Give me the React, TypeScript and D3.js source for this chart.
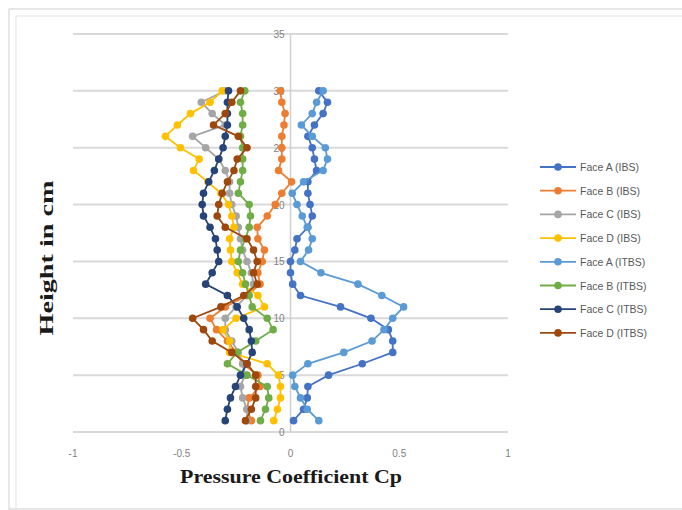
import React from "react";
import * as d3 from "d3";

const heights = [1,2,3,4,5,6,7,8,9,10,11,12,13,14,15,16,17,18,19,20,21,22,23,24,25,26,27,28,29,30];

// values listed from height 1 to 30
const faceA_IBS = [0.014,0.06,0.077,0.08,0.175,0.33,0.47,0.47,0.45,0.37,0.23,0.046,0.01,0.0,0.0,0.02,0.03,0.08,0.1,0.09,0.08,0.08,0.12,0.11,0.1,0.08,0.11,0.15,0.17,0.13];
const faceB_IBS = [-0.18,-0.2,-0.19,-0.14,-0.15,-0.22,-0.25,-0.29,-0.34,-0.37,-0.3,-0.2,-0.14,-0.15,-0.13,-0.12,-0.15,-0.153,-0.107,-0.07,-0.04,0.005,-0.055,-0.04,-0.04,-0.04,-0.03,-0.025,-0.04,-0.047];
const faceC_IBS = [-0.2,-0.2,-0.22,-0.23,-0.21,-0.22,-0.24,-0.27,-0.3,-0.3,-0.25,-0.2,-0.17,-0.18,-0.2,-0.22,-0.23,-0.24,-0.25,-0.27,-0.28,-0.28,-0.3,-0.33,-0.39,-0.45,-0.3,-0.36,-0.41,-0.3];
const faceD_IBS = [-0.077,-0.06,-0.046,-0.046,-0.055,-0.107,-0.28,-0.28,-0.31,-0.25,-0.12,-0.15,-0.22,-0.245,-0.27,-0.276,-0.28,-0.26,-0.27,-0.285,-0.32,-0.38,-0.446,-0.42,-0.506,-0.575,-0.52,-0.46,-0.37,-0.314];
const faceA_ITBS = [0.13,0.077,0.046,0.02,0.01,0.08,0.245,0.375,0.43,0.47,0.52,0.42,0.31,0.14,0.046,0.083,0.1,0.077,0.054,0.03,0.008,0.06,0.15,0.17,0.16,0.1,0.05,0.1,0.12,0.15];
const faceB_ITBS = [-0.138,-0.115,-0.1,-0.107,-0.2,-0.29,-0.245,-0.16,-0.08,-0.107,-0.176,-0.19,-0.207,-0.22,-0.24,-0.23,-0.207,-0.19,-0.184,-0.19,-0.24,-0.23,-0.22,-0.22,-0.22,-0.23,-0.22,-0.22,-0.23,-0.21];
const faceC_ITBS = [-0.3,-0.29,-0.276,-0.253,-0.23,-0.2,-0.176,-0.18,-0.19,-0.215,-0.245,-0.29,-0.39,-0.36,-0.33,-0.337,-0.345,-0.37,-0.4,-0.406,-0.4,-0.376,-0.35,-0.33,-0.31,-0.3,-0.29,-0.29,-0.29,-0.285];
const faceD_ITBS = [-0.207,-0.18,-0.16,-0.16,-0.16,-0.2,-0.27,-0.36,-0.4,-0.45,-0.32,-0.215,-0.153,-0.17,-0.153,-0.17,-0.2,-0.3,-0.337,-0.33,-0.314,-0.29,-0.26,-0.245,-0.2,-0.24,-0.354,-0.3,-0.27,-0.23];

const seriesNames = ["Face A (IBS)","Face B (IBS)","Face C (IBS)","Face D (IBS)","Face A (ITBS)","Face B (ITBS)","Face C (ITBS)","Face D (ITBS)"];
const seriesValues = [faceA_IBS, faceB_IBS, faceC_IBS, faceD_IBS, faceA_ITBS, faceB_ITBS, faceC_ITBS, faceD_ITBS];
const seriesColors = ["#4472C4","#ED7D31","#A5A5A5","#FFC000","#5B9BD5","#70AD47","#264478","#9E480E"];

const xTicks = [-1,-0.5,0,0.5,1];
const yTicks = [0,5,10,15,20,25,30,35];

export default function App() {
  const W = 682, H = 510;
  const x = d3.scaleLinear().domain([-1, 1]).range([73, 508]);
  const y = d3.scaleLinear().domain([0, 35]).range([432, 34]);
  const line = d3.line<number>().x((d) => x(d)).y((_, i) => y(heights[i]));

  const legendX = 540;
  const legendY0 = 167;
  const legendStep = 23.7;

  return (
    <svg width={W} height={H} style={{ position: "absolute", left: 0, top: 0, background: "#fff" }} fontFamily="Liberation Sans, Arial, sans-serif">
      <rect x={9} y={9} width={690} height={500} fill="#fff" stroke="#cfcfcf" strokeWidth={1} />
      <rect x={16} y={16} width={690} height={500} fill="none" stroke="#e4e4e4" strokeWidth={1} />
      {yTicks.map((t) => (
        <line key={"g" + t} x1={x(-1)} x2={x(1)} y1={y(t)} y2={y(t)} stroke="#d9d9d9" strokeWidth={2} />
      ))}
      <line x1={x(0)} x2={x(0)} y1={y(35)} y2={y(0)} stroke="#d0d0d0" strokeWidth={1.5} />
      {yTicks.map((t) => (
        <text key={"yt" + t} x={x(0) - 6} y={y(t) + 4} textAnchor="end" fontSize={10} fill="#7f7f7f">{t}</text>
      ))}
      {xTicks.map((t) => (
        <text key={"xt" + t} x={x(t)} y={457} textAnchor="middle" fontSize={10} fill="#7f7f7f">{t}</text>
      ))}
      {seriesValues.map((vals, si) => (
        <g key={"s" + si}>
          <path d={line(vals) || ""} fill="none" stroke={seriesColors[si]} strokeWidth={1.8} />
          {vals.map((v, i) => (
            <circle key={i} cx={x(v)} cy={y(heights[i])} r={3.8} fill={seriesColors[si]} />
          ))}
        </g>
      ))}
      <text x={291} y={483} textAnchor="middle" fontFamily="Liberation Serif, Times New Roman, serif" fontWeight="bold" fontSize={19} fill="#1a1a1a" textLength={222} lengthAdjust="spacingAndGlyphs">Pressure Coefficient Cp</text>
      <text transform={`translate(53,${y(15.3)}) rotate(-90)`} textAnchor="middle" fontFamily="Liberation Serif, Times New Roman, serif" fontWeight="bold" fontSize={18} fill="#1a1a1a" textLength={155} lengthAdjust="spacingAndGlyphs">Height in cm</text>
      {seriesNames.map((n, i) => {
        const ly = legendY0 + i * legendStep;
        return (
          <g key={"l" + i}>
            <line x1={legendX} x2={legendX + 36} y1={ly} y2={ly} stroke={seriesColors[i]} strokeWidth={1.8} />
            <circle cx={legendX + 18} cy={ly} r={3.8} fill={seriesColors[i]} />
            <text x={legendX + 40} y={ly + 4} fontSize={10.5} fill="#595959">{n}</text>
          </g>
        );
      })}
    </svg>
  );
}
